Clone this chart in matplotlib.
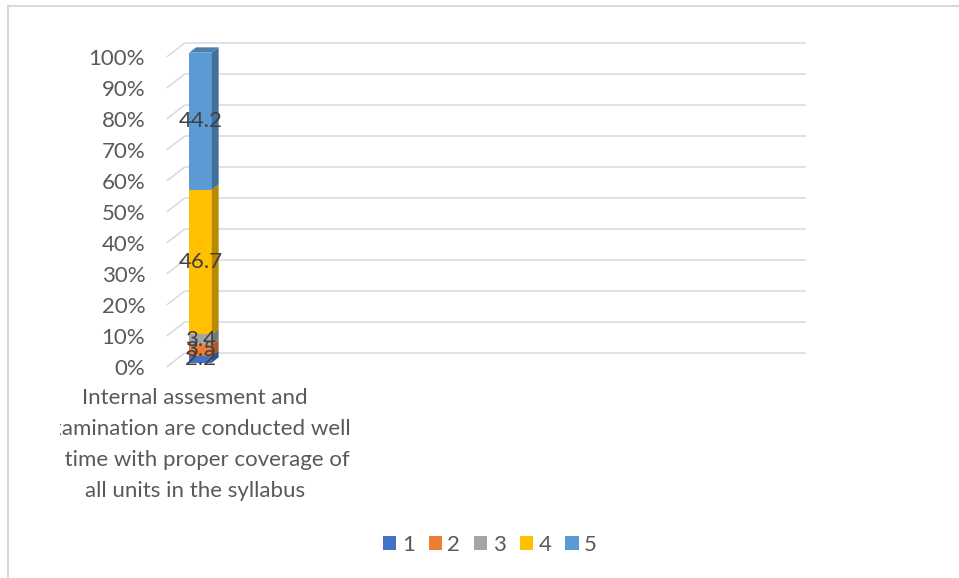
"""3D-look 100% stacked column, Excel style."""
import matplotlib
matplotlib.use("Agg")
import matplotlib.pyplot as plt
from matplotlib.patches import Patch
from matplotlib.lines import Line2D
from matplotlib.transforms import Bbox, TransformedBbox, ScaledTranslation
import numpy as np

categories = ["Internal assesment and\nexamination are conducted well\nin time with proper coverage of\nall units in the syllabus"]
series_names = ["1", "2", "3", "4", "5"]
values = [2.2, 3.5, 3.4, 46.7, 44.2]
yticks = [0, 10, 20, 30, 40, 50, 60, 70, 80, 90, 100]
colors = ["#4472C4", "#ED7D31", "#A5A5A5", "#FFC000", "#5B9BD5"]

W, H = 959, 578
FONT = "Lato"
TXT = "#595959"
GRID = "#D9D9D9"

# oblique depth offset of the back wall, in data units
n_slots = 11
DX = 18 / (621.3 / n_slots)
DY = 14 / 3.1
Z0, Z1 = 0.31, 0.69      # bar depth range (fraction front -> back)
HALF = 0.2               # half bar width in category units

fig = plt.figure(figsize=(W / 100, H / 100), dpi=100)
ax = fig.add_axes([166.7 / W, (H - 367) / H, 621.3 / W, 310 / H])
ax.set_xlim(-0.5, n_slots - 0.5)
ax.set_ylim(0, 100)
for s in ax.spines.values():
    s.set_visible(False)
ax.set_xticks([])
ax.set_yticks(yticks)
ax.set_yticklabels([f"{t}%" for t in yticks], fontfamily=FONT, fontsize=16, color=TXT)
ax.tick_params(axis="y", length=0, pad=15.5)

# walls: diagonal on the side wall + horizontal on the back wall
x0, x1 = -0.5, n_slots - 0.5
for t in yticks:
    ax.plot([x0, x0 + DX], [t, t + DY], color=GRID, lw=1.1, clip_on=False, zorder=1,
            solid_capstyle="butt")
    ax.plot([x0 + DX, x1 + DX], [t + DY, t + DY], color=GRID, lw=1.1, clip_on=False,
            zorder=1, solid_capstyle="butt")


def shade(c, f):
    rgb = np.array(matplotlib.colors.to_rgb(c))
    return tuple(rgb * f)


c = 0
tops = np.cumsum(values)
bottoms = tops - np.array(values)
xl = c - HALF + Z0 * DX
xr = c + HALF + Z0 * DX
sx = (Z1 - Z0) * DX
sy = (Z1 - Z0) * DY
for i, (b, t) in enumerate(zip(bottoms, tops)):
    yb, yt = b + Z0 * DY, t + Z0 * DY
    ax.fill([xl, xr, xr, xl], [yb, yb, yt, yt], color=colors[i], lw=0, clip_on=False, zorder=3)
    ax.fill([xr, xr + sx, xr + sx, xr], [yb, yb + sy, yt + sy, yt], color=shade(colors[i], 0.72),
            lw=0, clip_on=False, zorder=3)
    if i == len(values) - 1:
        ax.fill([xl, xr, xr + sx, xl + sx], [yt, yt, yt + sy, yt + sy],
                color=shade(colors[i], 0.82), lw=0, clip_on=False, zorder=3)
    ax.text((xl + xr) / 2, (yb + yt) / 2, f"{values[i]:g}", ha="center", va="center",
            fontfamily=FONT, fontsize=16, color="#404040", zorder=5, clip_on=False)

# category label, clipped at the plot-area left edge like the original
lab = ax.text(c, 0, categories[0], ha="center", va="top", multialignment="center",
              fontfamily=FONT, fontsize=16, color=TXT, linespacing=1.68,
              transform=ax.transData + ScaledTranslation(0, -21 / 100, fig.dpi_scale_trans))
lab.set_clip_box(TransformedBbox(Bbox.from_extents(60 / W, 0, 1, 1), fig.transFigure))
lab.set_clip_on(True)

handles = [Patch(facecolor=col, edgecolor="none") for col in colors]
leg = fig.legend(handles, series_names, loc="center", bbox_to_anchor=(490 / W, 1 - 545 / H),
                 ncol=5, frameon=False, handlelength=0.6, handleheight=0.6,
                 handletextpad=0.25, columnspacing=0.62, prop={"family": FONT, "size": 16})
for txt in leg.get_texts():
    txt.set_color(TXT)

# chart-area border (top and left visible)
fig.add_artist(Line2D([7.5 / W, 1], [1 - 6 / H, 1 - 6 / H], color=GRID, lw=1.5))
fig.add_artist(Line2D([7.5 / W, 7.5 / W], [0, 1 - 6 / H], color=GRID, lw=1.5))

fig.savefig("out.png", dpi=100)
